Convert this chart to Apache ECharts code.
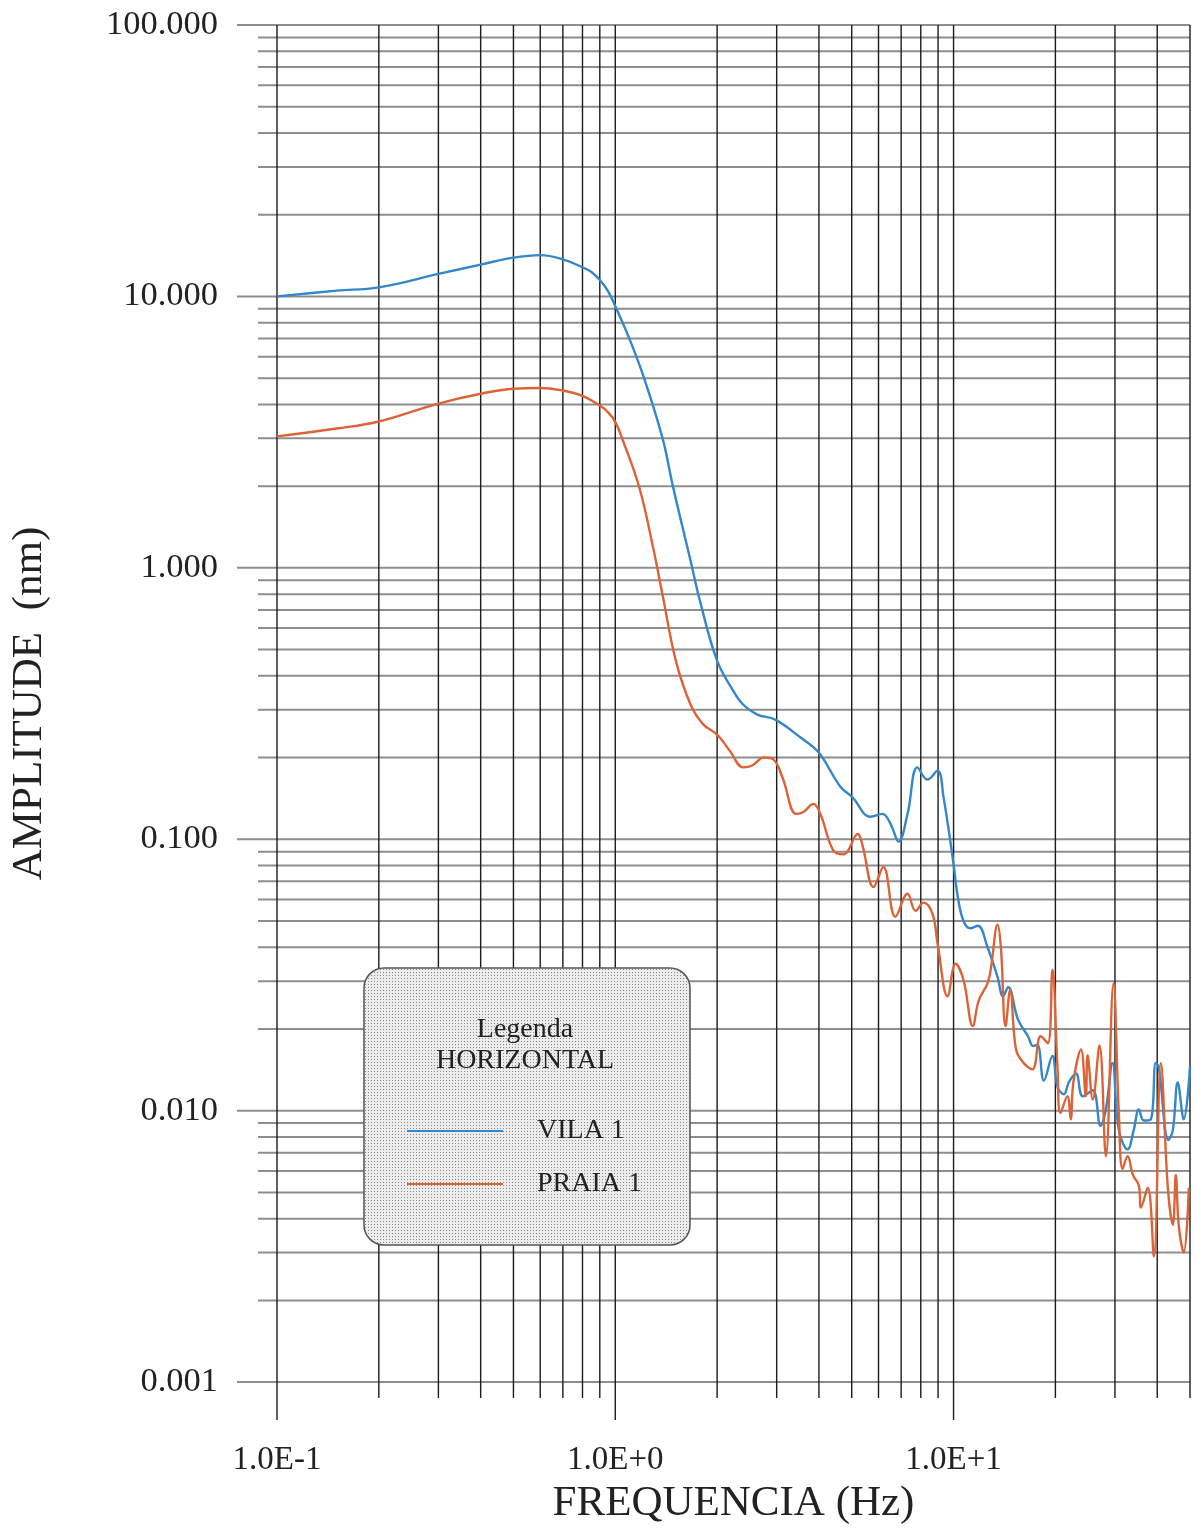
<!DOCTYPE html>
<html><head><meta charset="utf-8">
<script src="https://cdn.jsdelivr.net/npm/echarts@6/dist/echarts.min.js"></script>
<style>html,body{margin:0;padding:0;background:#fff}#c{width:1195px;height:1530px}</style>
</head><body><div id="c"></div>
<script>
// ---- data ----
const vilaFreq = [0.1,0.15,0.2,0.3,0.4,0.5,0.6,0.7,0.8,0.85,0.9,0.95,1.0,1.1,1.21,1.38,1.48,1.67,1.78,2.0,2.23,2.39,2.63,2.97,3.53,3.99,4.63,5.02,5.68,6.16,6.51,6.88,7.31,7.82,8.37,8.97,9.34,10.0,10.3,10.7,11.2,11.8,12.6,13.5,14.0,14.5,15.5,16.6,17.2,17.7,18.5,19.6,20.3,21.2,21.9,23.0,24.1,25.8,27.2,28.2,29.5,30.8,32.7,34.1,35.3,36.5,38.3,39.6,40.4,43.2,44.5,46.0,47.9,50.0];
const vilaAmp  = [10.0,10.5,10.8,12.1,13.1,13.9,14.2,13.7,12.8,12.3,11.5,10.5,9.2,7.0,5.1,3.0,2.0,1.06,0.755,0.455,0.353,0.313,0.288,0.276,0.237,0.209,0.156,0.143,0.121,0.124,0.114,0.098,0.124,0.184,0.166,0.179,0.143,0.081,0.061,0.050,0.047,0.048,0.040,0.031,0.0264,0.0285,0.0217,0.0188,0.0173,0.0175,0.0129,0.0159,0.0122,0.0115,0.0127,0.0137,0.0113,0.0119,0.0088,0.0101,0.0150,0.0085,0.0072,0.0085,0.0101,0.0092,0.0093,0.0150,0.0145,0.0078,0.0085,0.0127,0.0093,0.0145];

const praiaFreq = [0.1,0.15,0.2,0.3,0.4,0.5,0.6,0.7,0.8,0.9,0.95,1.0,1.056,1.18,1.295,1.38,1.51,1.67,1.82,2.0,2.18,2.39,2.54,2.75,2.93,3.12,3.43,3.60,3.85,4.04,4.41,4.73,5.21,5.38,5.80,6.2,6.73,7.31,7.72,8.15,8.67,8.97,9.60,10.14,10.7,11.4,11.86,12.7,13.5,13.8,14.25,14.7,15.3,16.1,17.1,18.1,19.0,19.6,20.3,20.7,21.7,22.2,22.6,23.8,24.6,24.9,25.8,27.0,28.2,29.7,30.8,31.6,32.7,33.9,35.3,35.8,37.5,39.1,41.0,43.0,44.5,45.4,46.3,47.9,49.6];
const praiaAmp  = [3.05,3.26,3.46,4.03,4.38,4.57,4.6,4.5,4.3,3.96,3.75,3.45,2.92,1.96,1.18,0.794,0.455,0.313,0.265,0.243,0.212,0.184,0.187,0.200,0.197,0.169,0.124,0.126,0.135,0.124,0.091,0.088,0.1045,0.095,0.0667,0.079,0.0518,0.063,0.0545,0.0584,0.053,0.0412,0.0264,0.0348,0.0303,0.0205,0.0254,0.0303,0.0484,0.040,0.0205,0.0279,0.0168,0.0150,0.0142,0.0188,0.0177,0.0331,0.0142,0.0098,0.0113,0.0093,0.0127,0.0168,0.0113,0.016,0.0110,0.0174,0.0068,0.0294,0.0098,0.0061,0.0068,0.0058,0.0053,0.0044,0.0052,0.0029,0.0150,0.0052,0.0038,0.0058,0.0038,0.0030,0.0052];

const seriesNames = ['VILA 1', 'PRAIA 1'];
const legendTitle = ['Legenda', 'HORIZONTAL'];
const xAxisTitle = 'FREQUENCIA (Hz)';
const yAxisTitle = 'AMPLITUDE  (nm)';

const xGridValues = [0.1,0.2,0.3,0.4,0.5,0.6,0.7,0.8,0.9,1,2,3,4,5,6,7,8,9,10,20,30,40,50];
const yGridValues = [0.001,0.002,0.003,0.004,0.005,0.006,0.007,0.008,0.009,
  0.01,0.02,0.03,0.04,0.05,0.06,0.07,0.08,0.09,
  0.1,0.2,0.3,0.4,0.5,0.6,0.7,0.8,0.9,
  1,2,3,4,5,6,7,8,9,
  10,20,30,40,50,60,70,80,90,100];

const X_MIN = 0.1, X_MAX = 50, Y_MIN = 0.001, Y_MAX = 100;

// ---- chart ----
const FONT = '"Liberation Serif", "Times New Roman", serif';
function isDecade(v){ const l = Math.log10(v); return Math.abs(l - Math.round(l)) < 1e-6; }

const pc = document.createElement('canvas'); pc.width = 3; pc.height = 3;
const pctx = pc.getContext('2d');
pctx.fillStyle = '#ececec'; pctx.fillRect(0,0,3,3);
pctx.fillStyle = '#8a8a8a'; pctx.fillRect(1,1,1,1);

const chart = echarts.init(document.getElementById('c'), null, {renderer:'canvas'});
chart.setOption({
  animation: false,
  backgroundColor: '#ffffff',
  grid: {left: 277, right: 5, top: 25, bottom: 143, containLabel: false},
  xAxis: {
    type: 'log', logBase: 10, min: X_MIN, max: X_MAX,
    name: xAxisTitle, nameLocation: 'middle', nameGap: 97,
    nameTextStyle: {fontFamily: FONT, fontSize: 43, color: '#222'},
    axisLine: {show: false}, axisTick: {show: false}, splitLine: {show: false},
    axisLabel: {
      margin: 62, fontFamily: FONT, fontSize: 33, color: '#222',
      formatter: function(v){
        if (!isDecade(v)) return '';
        const e = Math.round(Math.log10(v));
        return '1.0E' + (e >= 0 ? '+' : '') + e;
      }
    }
  },
  yAxis: {
    type: 'log', logBase: 10, min: Y_MIN, max: Y_MAX,
    name: yAxisTitle, nameLocation: 'middle', nameGap: 226, nameRotate: 90,
    nameTextStyle: {fontFamily: FONT, fontSize: 43, color: '#222'},
    axisLine: {show: false}, axisTick: {show: false}, splitLine: {show: false},
    axisLabel: {
      margin: 59, fontFamily: FONT, fontSize: 34.5, color: '#222',
      formatter: function(v){ return isDecade(v) ? v.toFixed(3) : ''; }
    }
  },
  legend: {
    orient: 'vertical', left: 407, top: 1117, padding: 0, itemWidth: 96, itemHeight: 2, itemGap: 25, z: 12,
    icon: 'rect',
    data: seriesNames,
    textStyle: {fontFamily: FONT, fontSize: 28, color: '#222', lineHeight: 28, padding: [0,0,0,29]}
  },
  graphic: [
    {type: 'rect', x: 364, y: 968, z: 10,
     shape: {width: 326, height: 277, r: 20},
     style: {fill: {image: pc, repeat: 'repeat'}, stroke: '#555', lineWidth: 1.5}},
    {type: 'text', x: 525, y: 1030, z: 11,
     style: {text: legendTitle[0], fontFamily: FONT, fontSize: 28, fill: '#222', align: 'center', verticalAlign: 'middle'}},
    {type: 'text', x: 525, y: 1061, z: 11,
     style: {text: legendTitle[1], fontFamily: FONT, fontSize: 28, fill: '#222', align: 'center', verticalAlign: 'middle'}}
  ],
  series: [
    {
      type: 'custom', name: 'hgrid', z: 1, clip: false, silent: true,
      data: yGridValues.map(v => [X_MIN, v]),
      renderItem: function(params, api){
        const v = api.value(1);
        const a = api.coord([X_MIN, v]);
        const b = api.coord([X_MAX, v]);
        const ext = isDecade(v) ? 40 : 19;
        return {type: 'line', shape: {x1: a[0] - ext, y1: a[1], x2: b[0], y2: b[1]},
                style: {stroke: '#8e8e8e', lineWidth: 2}};
      }
    },
    {
      type: 'custom', name: 'vgrid', z: 2, clip: false, silent: true,
      data: xGridValues.map(v => [v, Y_MIN]),
      renderItem: function(params, api){
        const v = api.value(0);
        const a = api.coord([v, Y_MAX]);
        const b = api.coord([v, Y_MIN]);
        const ext = isDecade(v) ? 38 : 16;
        return {type: 'line', shape: {x1: a[0], y1: a[1], x2: b[0], y2: b[1] + ext},
                style: {stroke: '#1c1c1c', lineWidth: 1.4}};
      }
    },
    {
      type: 'line', name: seriesNames[0], z: 3, showSymbol: false, symbol: 'none', smooth: 0.4,
      color: '#3487c9', lineStyle: {width: 2.4, color: '#3487c9'},
      data: vilaFreq.map((f, i) => [f, vilaAmp[i]])
    },
    {
      type: 'line', name: seriesNames[1], z: 3, showSymbol: false, symbol: 'none', smooth: 0.4,
      color: '#dc6338', lineStyle: {width: 2.4, color: '#dc6338'},
      data: praiaFreq.map((f, i) => [f, praiaAmp[i]])
    }
  ]
});
</script>
</body></html>
